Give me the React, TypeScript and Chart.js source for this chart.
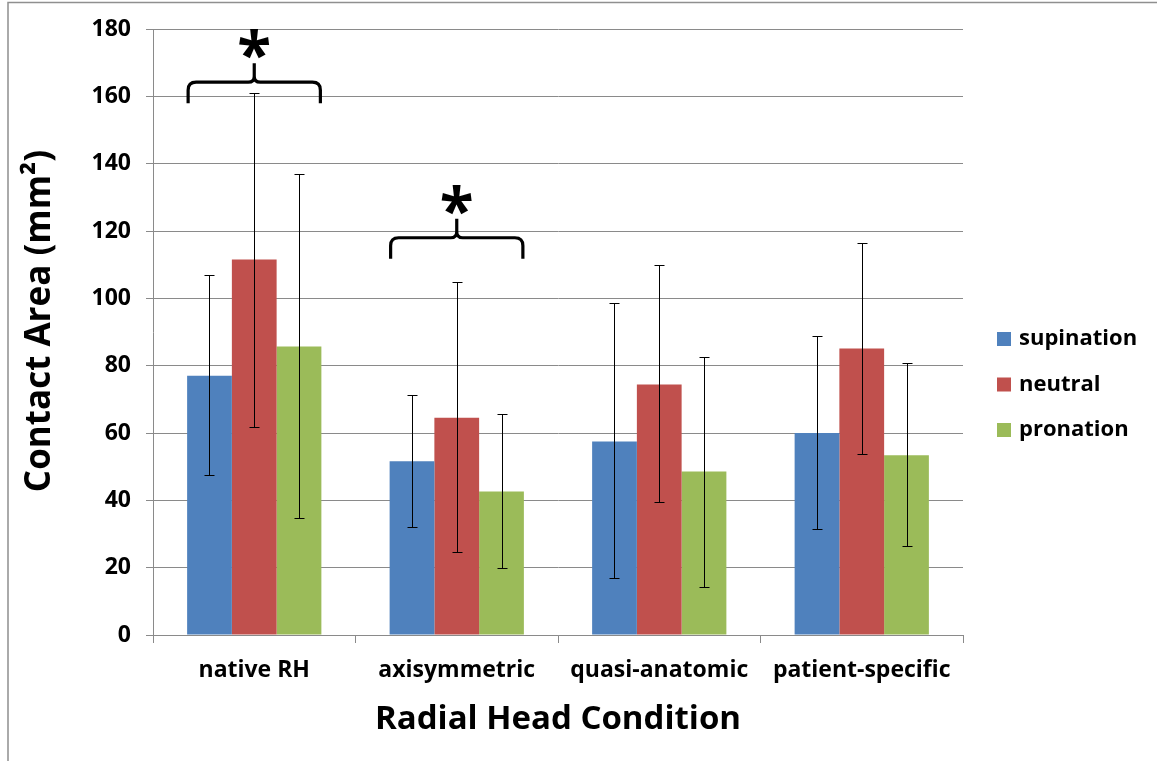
import React, { useEffect, useRef } from 'react';
import { Chart, registerables } from 'chart.js';

Chart.register(...registerables);

const categories = ['native RH', 'axisymmetric', 'quasi-anatomic', 'patient-specific'];
const seriesNames = ['supination', 'neutral', 'pronation'];
const seriesColors = ['#4F81BD', '#C0504D', '#9BBB59'];

// mean contact area per condition (mm²)
const supination = [77.0, 51.6, 57.5, 60.0];
const neutral = [111.5, 64.5, 74.4, 85.1];
const pronation = [85.7, 42.6, 48.6, 53.4];

// lower and upper ends of the error bars
const supinationLow = [47.6, 32.2, 16.9, 31.4];
const supinationHigh = [106.8, 71.2, 98.5, 88.7];
const neutralLow = [61.7, 24.6, 39.4, 53.9];
const neutralHigh = [160.9, 104.9, 109.8, 116.4];
const pronationLow = [34.7, 19.8, 14.2, 26.3];
const pronationHigh = [136.9, 65.5, 82.7, 80.8];

const yTicks = [0, 20, 40, 60, 80, 100, 120, 140, 160, 180];
const yTitle = 'Contact Area (mm²)';
const xTitle = 'Radial Head Condition';

// significance brackets: which category group, and the value level of the brace
const bracketCategories = [0, 1];
const bracketLevels = [164.2, 118.0];
const bracketMarks = ['*', '*'];

const FONT = "'Open Sans', 'DejaVu Sans', sans-serif";
const GRID = '#8a8a8a';

const lows = [supinationLow, neutralLow, pronationLow];
const highs = [supinationHigh, neutralHigh, pronationHigh];

const framePlugin = {
  id: 'frame',
  beforeDraw(chart: any) {
    const { ctx, width, height } = chart;
    ctx.save();
    ctx.fillStyle = '#ffffff';
    ctx.fillRect(0, 0, width, height);
    ctx.strokeStyle = '#8f8f8f';
    ctx.lineWidth = 1.5;
    ctx.strokeRect(8, 2.5, width + 20, height + 20);
    ctx.restore();
  },
};

const errorBarPlugin = {
  id: 'errorBars',
  afterDatasetsDraw(chart: any) {
    const { ctx } = chart;
    const y = chart.scales.y;
    ctx.save();
    ctx.strokeStyle = '#000000';
    ctx.lineWidth = 1;
    chart.data.datasets.forEach((_: any, i: number) => {
      const meta = chart.getDatasetMeta(i);
      meta.data.forEach((bar: any, j: number) => {
        const x = Math.round(bar.x) + 0.5;
        const yLo = Math.round(y.getPixelForValue(lows[i][j])) + 0.5;
        const yHi = Math.round(y.getPixelForValue(highs[i][j])) + 0.5;
        const cap = 5;
        ctx.beginPath();
        ctx.moveTo(x, yLo);
        ctx.lineTo(x, yHi);
        ctx.moveTo(x - cap, yLo);
        ctx.lineTo(x + cap, yLo);
        ctx.moveTo(x - cap, yHi);
        ctx.lineTo(x + cap, yHi);
        ctx.stroke();
      });
    });
    ctx.restore();
  },
};

const bracketPlugin = {
  id: 'brackets',
  afterDatasetsDraw(chart: any) {
    const { ctx } = chart;
    const yScale = chart.scales.y;
    const first = chart.getDatasetMeta(0);
    const last = chart.getDatasetMeta(chart.data.datasets.length - 1);
    ctx.save();
    ctx.strokeStyle = '#000000';
    ctx.lineWidth = 3.2;
    ctx.lineCap = 'butt';
    ctx.lineJoin = 'round';
    bracketCategories.forEach((c, k) => {
      const b0 = first.data[c];
      const b1 = last.data[c];
      const x0 = b0.x - b0.width / 2 + 1;
      const x1 = b1.x + b1.width / 2 - 1;
      const xc = (x0 + x1) / 2;
      const yb = yScale.getPixelForValue(bracketLevels[k]);
      const drop = 21;
      const r = 8;
      const spike = 19;
      const rs = 6;
      ctx.beginPath();
      ctx.moveTo(x0, yb + drop);
      ctx.lineTo(x0, yb + r);
      ctx.quadraticCurveTo(x0, yb, x0 + r, yb);
      ctx.lineTo(xc - rs, yb);
      ctx.quadraticCurveTo(xc, yb, xc, yb - rs);
      ctx.lineTo(xc, yb - spike);
      ctx.moveTo(xc, yb - rs);
      ctx.quadraticCurveTo(xc, yb, xc + rs, yb);
      ctx.lineTo(x1 - r, yb);
      ctx.quadraticCurveTo(x1, yb, x1, yb + r);
      ctx.lineTo(x1, yb + drop);
      ctx.stroke();

      // significance mark centred above the brace
      ctx.fillStyle = '#000000';
      ctx.font = `bold 62px ${FONT}`;
      ctx.textAlign = 'center';
      ctx.textBaseline = 'alphabetic';
      const m = ctx.measureText(bracketMarks[k]);
      const asc = m.actualBoundingBoxAscent;
      const desc = m.actualBoundingBoxDescent;
      const cy = yb - 38;
      ctx.fillText(bracketMarks[k], xc, cy + (asc - desc) / 2);
    });
    ctx.restore();
  },
};

// vertical axis title, set a little above the plot's middle
const yTitlePlugin = {
  id: 'yTitle',
  afterDraw(chart: any) {
    const { ctx } = chart;
    ctx.save();
    ctx.translate(40, 321);
    ctx.rotate(-Math.PI / 2);
    ctx.font = `bold 35px ${FONT}`;
    ctx.fillStyle = '#000000';
    ctx.textAlign = 'center';
    ctx.textBaseline = 'middle';
    ctx.fillText(yTitle, 0, 0);
    ctx.restore();
  },
};

const legendPlugin = {
  id: 'sideLegend',
  afterDraw(chart: any) {
    const { ctx } = chart;
    ctx.save();
    ctx.font = `bold 22px ${FONT}`;
    ctx.textAlign = 'left';
    ctx.textBaseline = 'middle';
    chart.data.datasets.forEach((ds: any, i: number) => {
      const cy = 339 + i * 45.5;
      ctx.fillStyle = ds.backgroundColor;
      ctx.fillRect(997, cy - 7, 14, 14);
      ctx.fillStyle = '#000000';
      ctx.fillText(ds.label, 1019, cy);
    });
    ctx.restore();
  },
};

export default function App() {
  const canvasRef = useRef<HTMLCanvasElement | null>(null);

  useEffect(() => {
    const canvas = canvasRef.current;
    if (!canvas) return;
    const values = [supination, neutral, pronation];
    const chart = new Chart(canvas, {
      type: 'bar',
      data: {
        labels: categories,
        datasets: seriesNames.map((name, i) => ({
          label: name,
          data: values[i],
          backgroundColor: seriesColors[i],
          borderWidth: 0,
          barPercentage: 1,
          categoryPercentage: 0.663,
        })),
      },
      options: {
        responsive: false,
        animation: false,
        devicePixelRatio: 1,
        layout: { padding: { left: 0, top: 29, right: 194, bottom: 0 } },
        plugins: {
          legend: { display: false },
          tooltip: { enabled: false },
        },
        scales: {
          x: {
            grid: {
              display: true,
              drawOnChartArea: false,
              drawTicks: true,
              tickLength: 8,
              color: GRID,
              offset: true,
            },
            border: { color: GRID, width: 1 },
            ticks: {
              color: '#000000',
              font: { family: FONT, size: 23, weight: 'bold' },
              padding: 14,
              maxRotation: 0,
              autoSkip: false,
            },
            title: {
              display: true,
              text: xTitle,
              color: '#000000',
              font: { family: FONT, size: 33, weight: 'bold' },
              padding: { top: 0, bottom: 22 },
            },
            afterFit: (s: any) => {
              s.height = 126;
            },
          },
          y: {
            min: 0,
            max: 180,
            afterBuildTicks: (s: any) => {
              s.ticks = yTicks.map((v) => ({ value: v }));
            },
            grid: { color: GRID, tickLength: 7, lineWidth: 1 },
            border: { color: GRID, width: 1 },
            ticks: {
              color: '#000000',
              font: { family: FONT, size: 23, weight: 'bold' },
              padding: 15,
            },
            title: { display: false },
            afterFit: (s: any) => {
              s.width = 153;
            },
          },
        },
      },
      plugins: [framePlugin, errorBarPlugin, bracketPlugin, yTitlePlugin, legendPlugin],
    } as any);
    return () => chart.destroy();
  }, []);

  return (
    <div style={{ position: 'absolute', left: 0, top: 0, width: 1157, height: 761 }}>
      <canvas ref={canvasRef} width={1157} height={761} />
    </div>
  );
}
